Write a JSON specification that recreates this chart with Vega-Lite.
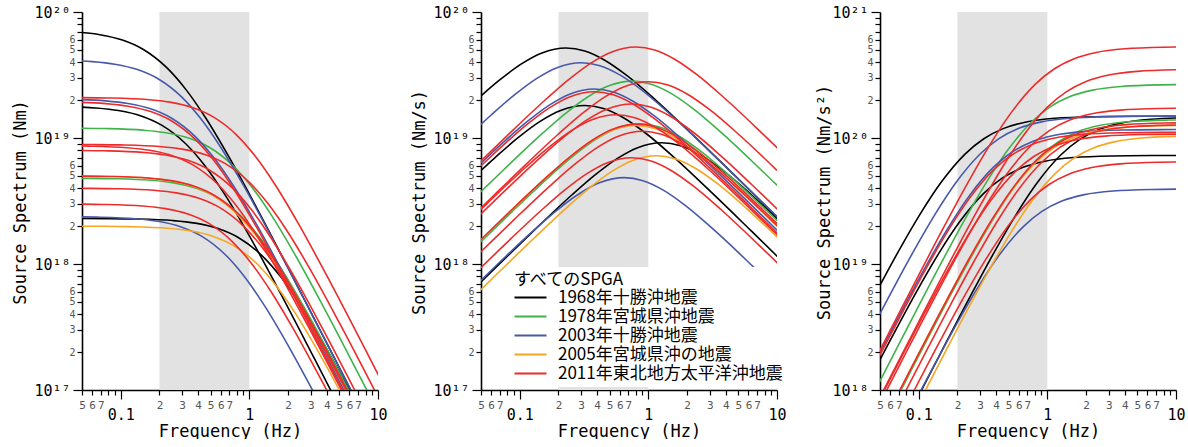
{
"$schema":"https://vega.github.io/schema/vega-lite/v6.json",
"padding":{"left":11,"top":5,"right":0,"bottom":0},
"bounds":"flush",
"spacing":103,
"config":{"view":{"stroke":null},"axis":{"domainColor":"black","domainWidth":1.6,"tickColor":"black","tickWidth":1.2,"grid":false,"labelOverlap":false,"labelFlush":false,"labelFont":"DejaVu Sans Mono","titleFont":"DejaVu Sans Mono","titleFontSize":17,"titleFontWeight":"normal","titleColor":"black"}},
"resolve":{"scale":{"color":"independent"},"legend":{"color":"independent"}},
"datasets":{
"curves":[{"id":"k1","eq":"1968年十勝沖地震"},{"id":"k2","eq":"1968年十勝沖地震"},{"id":"k3","eq":"1968年十勝沖地震"},{"id":"g1","eq":"1978年宮城県沖地震"},{"id":"g2","eq":"1978年宮城県沖地震"},{"id":"b1","eq":"2003年十勝沖地震"},{"id":"b2","eq":"2003年十勝沖地震"},{"id":"b3","eq":"2003年十勝沖地震"},{"id":"o1","eq":"2005年宮城県沖の地震"},{"id":"o2","eq":"2005年宮城県沖の地震"},{"id":"r1","eq":"2011年東北地方太平洋沖地震"},{"id":"r2","eq":"2011年東北地方太平洋沖地震"},{"id":"r3","eq":"2011年東北地方太平洋沖地震"},{"id":"r4","eq":"2011年東北地方太平洋沖地震"},{"id":"r5","eq":"2011年東北地方太平洋沖地震"},{"id":"r6","eq":"2011年東北地方太平洋沖地震"},{"id":"r7","eq":"2011年東北地方太平洋沖地震"},{"id":"r8","eq":"2011年東北地方太平洋沖地震"}],
"pts":[
{"id":"k1","f":0.0458,"d":6.923e19,"v":1.992e19,"a":5.733e18},
{"id":"k1","f":0.0687,"d":6.605e19,"v":2.851e19,"a":1.231e19},
{"id":"k1","f":0.1031,"d":5.988e19,"v":3.877e19,"a":2.510e19},
{"id":"k1","f":0.1489,"d":5.062e19,"v":4.734e19,"a":4.427e19},
{"id":"k1","f":0.229,"d":3.6e19,"v":5.18e19,"a":7.453e19},
{"id":"k1","f":0.3206,"d":2.432e19,"v":4.9e19,"a":9.87e19},
{"id":"k1","f":0.458,"d":1.44e19,"v":4.144e19,"a":1.1925e20},
{"id":"k1","f":0.687,"d":7.2e18,"v":3.108e19,"a":1.3415e20},
{"id":"k1","f":1.145,"d":2.769e18,"v":1.992e19,"a":1.4333e20},
{"id":"k1","f":2.29,"d":7.129e17,"v":1.0257e19,"a":1.4758e20},
{"id":"k1","f":4.58,"d":1.796e17,"v":5.167e18,"a":1.4869e20},
{"id":"k1","f":10.305,"d":3.557e16,"v":2.301e18,"a":1.4899e20},
{"id":"k2","f":0.032,"d":1.7822e19,"v":3.583e18,"a":7.205e17},
{"id":"k2","f":0.064,"d":1.7308e19,"v":6.96e18,"a":2.799e18},
{"id":"k2","f":0.096,"d":1.6514e19,"v":9.961e18,"a":6.008e18},
{"id":"k2","f":0.144,"d":1.4969e19,"v":1.3544e19,"a":1.2254e19},
{"id":"k2","f":0.208,"d":1.2654e19,"v":1.6538e19,"a":2.1613e19},
{"id":"k2","f":0.32,"d":9.0e18,"v":1.8096e19,"a":3.6384e19},
{"id":"k2","f":0.448,"d":6.081e18,"v":1.7118e19,"a":4.8184e19},
{"id":"k2","f":0.64,"d":3.6e18,"v":1.4477e19,"a":5.8214e19},
{"id":"k2","f":0.96,"d":1.8e18,"v":1.0858e19,"a":6.549e19},
{"id":"k2","f":1.6,"d":6.923e17,"v":6.96e18,"a":6.9968e19},
{"id":"k2","f":3.2,"d":1.782e17,"v":3.583e18,"a":7.2047e19},
{"id":"k2","f":6.4,"d":4.489e16,"v":1.805e18,"a":7.2585e19},
{"id":"k2","f":14.4,"d":8.89e15,"v":8.039e17,"a":7.2731e19},
{"id":"k3","f":0.0381,"d":2.298e18,"v":5.501e17,"a":1.317e17},
{"id":"k3","f":0.0762,"d":2.2917e18,"v":1.0973e18,"a":5.253e17},
{"id":"k3","f":0.127,"d":2.2772e18,"v":1.8172e18,"a":1.45e18},
{"id":"k3","f":0.254,"d":2.2115e18,"v":3.5295e18,"a":5.633e18},
{"id":"k3","f":0.381,"d":2.1101e18,"v":5.0513e18,"a":1.2092e19},
{"id":"k3","f":0.5715,"d":1.9127e18,"v":6.8681e18,"a":2.4662e19},
{"id":"k3","f":0.8255,"d":1.6169e18,"v":8.3863e18,"a":4.3497e19},
{"id":"k3","f":1.27,"d":1.15e18,"v":9.1766e18,"a":7.3225e19},
{"id":"k3","f":1.778,"d":7.77e17,"v":8.6806e18,"a":9.697e19},
{"id":"k3","f":2.54,"d":4.6e17,"v":7.3413e18,"a":1.1716e20},
{"id":"k3","f":3.81,"d":2.3e17,"v":5.506e18,"a":1.3181e20},
{"id":"k3","f":6.35,"d":8.846e16,"v":3.5295e18,"a":1.4082e20},
{"id":"k3","f":12.7,"d":2.277e16,"v":1.8172e18,"a":1.45e20},
{"id":"g1","f":0.045,"d":1.1957e19,"v":3.381e18,"a":9.559e17},
{"id":"g1","f":0.075,"d":1.1881e19,"v":5.599e18,"a":2.638e18},
{"id":"g1","f":0.15,"d":1.1538e19,"v":1.0875e19,"a":1.0249e19},
{"id":"g1","f":0.225,"d":1.1009e19,"v":1.5564e19,"a":2.2003e19},
{"id":"g1","f":0.3375,"d":9.979e18,"v":2.1161e19,"a":4.4875e19},
{"id":"g1","f":0.4875,"d":8.436e18,"v":2.5839e19,"a":7.915e19},
{"id":"g1","f":0.75,"d":6.0e18,"v":2.8274e19,"a":1.3324e20},
{"id":"g1","f":1.05,"d":4.054e18,"v":2.6746e19,"a":1.7645e20},
{"id":"g1","f":1.5,"d":2.4e18,"v":2.2619e19,"a":2.1318e20},
{"id":"g1","f":2.25,"d":1.2e18,"v":1.6964e19,"a":2.3983e20},
{"id":"g1","f":3.75,"d":4.615e17,"v":1.0875e19,"a":2.5623e20},
{"id":"g1","f":7.5,"d":1.188e17,"v":5.599e18,"a":2.6384e20},
{"id":"g1","f":15,"d":2.993e16,"v":2.8204e18,"a":2.6581e20},
{"id":"g2","f":0.0258,"d":4.7957e18,"v":7.774e17,"a":1.26e17},
{"id":"g2","f":0.0516,"d":4.7828e18,"v":1.5506e18,"a":5.027e17},
{"id":"g2","f":0.086,"d":4.7525e18,"v":2.568e18,"a":1.388e18},
{"id":"g2","f":0.172,"d":4.6154e18,"v":4.988e18,"a":5.39e18},
{"id":"g2","f":0.258,"d":4.4037e18,"v":7.138e18,"a":1.1572e19},
{"id":"g2","f":0.387,"d":3.9917e18,"v":9.706e18,"a":2.3601e19},
{"id":"g2","f":0.559,"d":3.3743e18,"v":1.1851e19,"a":4.1626e19},
{"id":"g2","f":0.86,"d":2.4e18,"v":1.2968e19,"a":7.0075e19},
{"id":"g2","f":1.204,"d":1.6216e18,"v":1.2267e19,"a":9.28e19},
{"id":"g2","f":1.72,"d":9.6e17,"v":1.0374e19,"a":1.1212e20},
{"id":"g2","f":2.58,"d":4.8e17,"v":7.781e18,"a":1.2614e20},
{"id":"g2","f":4.3,"d":1.846e17,"v":4.988e18,"a":1.3476e20},
{"id":"g2","f":8.6,"d":4.752e16,"v":2.568e18,"a":1.3876e20},
{"id":"g2","f":17.2,"d":1.197e16,"v":1.2936e18,"a":1.398e20},
{"id":"b1","f":0.03,"d":4.1584e19,"v":7.838e18,"a":1.478e18},
{"id":"b1","f":0.06,"d":4.0385e19,"v":1.5225e19,"a":5.74e18},
{"id":"b1","f":0.09,"d":3.8532e19,"v":2.1789e19,"a":1.2322e19},
{"id":"b1","f":0.135,"d":3.4927e19,"v":2.9626e19,"a":2.513e19},
{"id":"b1","f":0.195,"d":2.9526e19,"v":3.6175e19,"a":4.4323e19},
{"id":"b1","f":0.3,"d":2.1e19,"v":3.9584e19,"a":7.4615e19},
{"id":"b1","f":0.42,"d":1.4189e19,"v":3.7444e19,"a":9.8815e19},
{"id":"b1","f":0.6,"d":8.4e18,"v":3.1667e19,"a":1.1938e20},
{"id":"b1","f":0.9,"d":4.2e18,"v":2.375e19,"a":1.3431e20},
{"id":"b1","f":1.5,"d":1.6154e18,"v":1.5225e19,"a":1.4349e20},
{"id":"b1","f":3.0,"d":4.158e17,"v":7.838e18,"a":1.4775e20},
{"id":"b1","f":6.0,"d":1.0475e17,"v":3.9485e18,"a":1.4886e20},
{"id":"b1","f":13.5,"d":2.075e16,"v":1.7584e18,"a":1.4916e20},
{"id":"b2","f":0.038,"d":2.0297e19,"v":4.846e18,"a":1.157e18},
{"id":"b2","f":0.076,"d":1.9712e19,"v":9.413e18,"a":4.495e18},
{"id":"b2","f":0.114,"d":1.8807e19,"v":1.3471e19,"a":9.649e18},
{"id":"b2","f":0.171,"d":1.7048e19,"v":1.8317e19,"a":1.9679e19},
{"id":"b2","f":0.247,"d":1.4411e19,"v":2.2366e19,"a":3.4709e19},
{"id":"b2","f":0.38,"d":1.025e19,"v":2.4473e19,"a":5.843e19},
{"id":"b2","f":0.532,"d":6.926e18,"v":2.315e19,"a":7.738e19},
{"id":"b2","f":0.76,"d":4.1e18,"v":1.9578e19,"a":9.349e19},
{"id":"b2","f":1.14,"d":2.05e18,"v":1.4684e19,"a":1.0517e20},
{"id":"b2","f":1.9,"d":7.885e17,"v":9.413e18,"a":1.1237e20},
{"id":"b2","f":3.8,"d":2.03e17,"v":4.846e18,"a":1.157e20},
{"id":"b2","f":7.6,"d":5.113e16,"v":2.4412e18,"a":1.1657e20},
{"id":"b2","f":17.1,"d":1.013e16,"v":1.0872e18,"a":1.168e20},
{"id":"b3","f":0.0389,"d":2.3715e18,"v":5.793e17,"a":1.415e17},
{"id":"b3","f":0.0648,"d":2.3564e18,"v":9.594e17,"a":3.906e17},
{"id":"b3","f":0.1296,"d":2.2885e18,"v":1.8635e18,"a":1.5175e18},
{"id":"b3","f":0.1944,"d":2.1835e18,"v":2.667e18,"a":3.2577e18},
{"id":"b3","f":0.2916,"d":1.9792e18,"v":3.6263e18,"a":6.644e18},
{"id":"b3","f":0.4212,"d":1.6731e18,"v":4.4279e18,"a":1.1718e19},
{"id":"b3","f":0.648,"d":1.19e18,"v":4.8451e18,"a":1.9727e19},
{"id":"b3","f":0.9072,"d":8.041e17,"v":4.5832e18,"a":2.6125e19},
{"id":"b3","f":1.296,"d":4.76e17,"v":3.8761e18,"a":3.1563e19},
{"id":"b3","f":1.944,"d":2.38e17,"v":2.9071e18,"a":3.5509e19},
{"id":"b3","f":3.24,"d":9.154e16,"v":1.8635e18,"a":3.7937e19},
{"id":"b3","f":6.48,"d":2.356e16,"v":9.594e17,"a":3.9063e19},
{"id":"b3","f":12.96,"d":5.94e15,"v":4.833e17,"a":3.9356e19},
{"id":"o1","f":0.048,"d":4.982e18,"v":1.5025e18,"a":4.532e17},
{"id":"o1","f":0.08,"d":4.9505e18,"v":2.488e18,"a":1.251e18},
{"id":"o1","f":0.16,"d":4.8077e18,"v":4.833e18,"a":4.859e18},
{"id":"o1","f":0.24,"d":4.5872e18,"v":6.917e18,"a":1.0431e19},
{"id":"o1","f":0.36,"d":4.158e18,"v":9.405e18,"a":2.1274e19},
{"id":"o1","f":0.52,"d":3.5149e18,"v":1.1484e19,"a":3.7522e19},
{"id":"o1","f":0.8,"d":2.5e18,"v":1.2566e19,"a":6.3165e19},
{"id":"o1","f":1.12,"d":1.6892e18,"v":1.1887e19,"a":8.365e19},
{"id":"o1","f":1.6,"d":1.0e18,"v":1.0053e19,"a":1.0106e20},
{"id":"o1","f":2.4,"d":5.0e17,"v":7.54e18,"a":1.137e20},
{"id":"o1","f":4.0,"d":1.923e17,"v":4.833e18,"a":1.2147e20},
{"id":"o1","f":8.0,"d":4.95e16,"v":2.488e18,"a":1.2508e20},
{"id":"o1","f":16,"d":1.247e16,"v":1.2535e18,"a":1.2601e20},
{"id":"o2","f":0.0345,"d":1.998e18,"v":4.332e17,"a":9.387e16},
{"id":"o2","f":0.069,"d":1.9928e18,"v":8.64e17,"a":3.746e17},
{"id":"o2","f":0.115,"d":1.9802e18,"v":1.4308e18,"a":1.034e18},
{"id":"o2","f":0.23,"d":1.9231e18,"v":2.779e18,"a":4.016e18},
{"id":"o2","f":0.345,"d":1.8349e18,"v":3.977e18,"a":8.622e18},
{"id":"o2","f":0.5175,"d":1.6632e18,"v":5.408e18,"a":1.7584e19},
{"id":"o2","f":0.7475,"d":1.406e18,"v":6.603e18,"a":3.1014e19},
{"id":"o2","f":1.15,"d":1.0e18,"v":7.2257e18,"a":5.221e19},
{"id":"o2","f":1.61,"d":6.757e17,"v":6.835e18,"a":6.914e19},
{"id":"o2","f":2.3,"d":4.0e17,"v":5.7806e18,"a":8.354e19},
{"id":"o2","f":3.45,"d":2.0e17,"v":4.3354e18,"a":9.398e19},
{"id":"o2","f":5.75,"d":7.692e16,"v":2.779e18,"a":1.004e20},
{"id":"o2","f":11.5,"d":1.98e16,"v":1.4308e18,"a":1.0339e20},
{"id":"r1","f":0.048,"d":2.0925e19,"v":6.311e18,"a":1.903e18},
{"id":"r1","f":0.08,"d":2.0792e19,"v":1.0451e19,"a":5.253e18},
{"id":"r1","f":0.16,"d":2.0192e19,"v":2.03e19,"a":2.0408e19},
{"id":"r1","f":0.24,"d":1.9266e19,"v":2.9053e19,"a":4.381e19},
{"id":"r1","f":0.36,"d":1.7464e19,"v":3.9502e19,"a":8.935e19},
{"id":"r1","f":0.52,"d":1.4763e19,"v":4.8234e19,"a":1.5759e20},
{"id":"r1","f":0.8,"d":1.05e19,"v":5.2779e19,"a":2.653e20},
{"id":"r1","f":1.12,"d":7.095e18,"v":4.9926e19,"a":3.5134e20},
{"id":"r1","f":1.6,"d":4.2e18,"v":4.2223e19,"a":4.2447e20},
{"id":"r1","f":2.4,"d":2.1e18,"v":3.1667e19,"a":4.7753e20},
{"id":"r1","f":4.0,"d":8.077e17,"v":2.03e19,"a":5.1018e20},
{"id":"r1","f":8.0,"d":2.079e17,"v":1.0451e19,"a":5.2534e20},
{"id":"r1","f":16,"d":5.237e16,"v":5.2648e18,"a":5.2927e20},
{"id":"r2","f":0.038,"d":1.9307e19,"v":4.61e18,"a":1.101e18},
{"id":"r2","f":0.076,"d":1.875e19,"v":8.954e18,"a":4.275e18},
{"id":"r2","f":0.114,"d":1.789e19,"v":1.2814e19,"a":9.178e18},
{"id":"r2","f":0.171,"d":1.6216e19,"v":1.7423e19,"a":1.8719e19},
{"id":"r2","f":0.247,"d":1.3708e19,"v":2.1274e19,"a":3.3016e19},
{"id":"r2","f":0.38,"d":9.75e18,"v":2.3279e19,"a":5.558e19},
{"id":"r2","f":0.532,"d":6.588e18,"v":2.2021e19,"a":7.361e19},
{"id":"r2","f":0.76,"d":3.9e18,"v":1.8623e19,"a":8.893e19},
{"id":"r2","f":1.14,"d":1.95e18,"v":1.3967e19,"a":1.0004e20},
{"id":"r2","f":1.9,"d":7.5e17,"v":8.954e18,"a":1.0688e20},
{"id":"r2","f":3.8,"d":1.931e17,"v":4.61e18,"a":1.1006e20},
{"id":"r2","f":7.6,"d":4.863e16,"v":2.3221e18,"a":1.1088e20},
{"id":"r2","f":17.1,"d":9.63e15,"v":1.0341e18,"a":1.111e20},
{"id":"r3","f":0.03,"d":8.892e18,"v":1.676e18,"a":3.159e17},
{"id":"r3","f":0.06,"d":8.868e18,"v":3.343e18,"a":1.26e18},
{"id":"r3","f":0.1,"d":8.8119e18,"v":5.537e18,"a":3.479e18},
{"id":"r3","f":0.2,"d":8.5577e18,"v":1.0754e19,"a":1.3514e19},
{"id":"r3","f":0.3,"d":8.1651e18,"v":1.5391e19,"a":2.9011e19},
{"id":"r3","f":0.45,"d":7.4012e18,"v":2.0926e19,"a":5.9167e19},
{"id":"r3","f":0.65,"d":6.2566e18,"v":2.5552e19,"a":1.0436e20},
{"id":"r3","f":1.0,"d":4.45e18,"v":2.796e19,"a":1.7568e20},
{"id":"r3","f":1.4,"d":3.0068e18,"v":2.6449e19,"a":2.3265e20},
{"id":"r3","f":2.0,"d":1.78e18,"v":2.2368e19,"a":2.8108e20},
{"id":"r3","f":3.0,"d":8.9e17,"v":1.6776e19,"a":3.1622e20},
{"id":"r3","f":5.0,"d":3.423e17,"v":1.0754e19,"a":3.3784e20},
{"id":"r3","f":10,"d":8.812e16,"v":5.537e18,"a":3.4787e20},
{"id":"r4","f":0.0444,"d":7.9713e18,"v":2.224e18,"a":6.204e17},
{"id":"r4","f":0.074,"d":7.9208e18,"v":3.683e18,"a":1.712e18},
{"id":"r4","f":0.148,"d":7.6923e18,"v":7.153e18,"a":6.652e18},
{"id":"r4","f":0.222,"d":7.3394e18,"v":1.0238e19,"a":1.428e19},
{"id":"r4","f":0.333,"d":6.6528e18,"v":1.392e19,"a":2.9125e19},
{"id":"r4","f":0.481,"d":5.6239e18,"v":1.6996e19,"a":5.1368e19},
{"id":"r4","f":0.74,"d":4.0e18,"v":1.8598e19,"a":8.6475e19},
{"id":"r4","f":1.036,"d":2.7027e18,"v":1.7593e19,"a":1.1452e20},
{"id":"r4","f":1.48,"d":1.6e18,"v":1.4878e19,"a":1.3836e20},
{"id":"r4","f":2.22,"d":8.0e17,"v":1.1159e19,"a":1.5566e20},
{"id":"r4","f":3.7,"d":3.077e17,"v":7.153e18,"a":1.663e20},
{"id":"r4","f":7.4,"d":7.921e16,"v":3.683e18,"a":1.7124e20},
{"id":"r4","f":14.8,"d":1.995e16,"v":1.8552e18,"a":1.7252e20},
{"id":"r5","f":0.0492,"d":4.982e18,"v":1.54e18,"a":4.761e17},
{"id":"r5","f":0.082,"d":4.9505e18,"v":2.551e18,"a":1.314e18},
{"id":"r5","f":0.164,"d":4.8077e18,"v":4.954e18,"a":5.105e18},
{"id":"r5","f":0.246,"d":4.5872e18,"v":7.091e18,"a":1.0959e19},
{"id":"r5","f":0.369,"d":4.158e18,"v":9.641e18,"a":2.2352e19},
{"id":"r5","f":0.533,"d":3.5149e18,"v":1.1772e19,"a":3.9422e19},
{"id":"r5","f":0.82,"d":2.5e18,"v":1.2881e19,"a":6.6365e19},
{"id":"r5","f":1.148,"d":1.6892e18,"v":1.2185e19,"a":8.789e19},
{"id":"r5","f":1.64,"d":1.0e18,"v":1.0305e19,"a":1.0618e20},
{"id":"r5","f":2.46,"d":5.0e17,"v":7.729e18,"a":1.1946e20},
{"id":"r5","f":4.1,"d":1.923e17,"v":4.954e18,"a":1.2763e20},
{"id":"r5","f":8.2,"d":4.95e16,"v":2.551e18,"a":1.3142e20},
{"id":"r5","f":16.4,"d":1.247e16,"v":1.2849e18,"a":1.324e20},
{"id":"r6","f":0.027,"d":3.9964e18,"v":6.78e17,"a":1.15e17},
{"id":"r6","f":0.054,"d":3.9856e18,"v":1.352e18,"a":4.588e17},
{"id":"r6","f":0.09,"d":3.9604e18,"v":2.24e18,"a":1.266e18},
{"id":"r6","f":0.18,"d":3.8462e18,"v":4.35e18,"a":4.92e18},
{"id":"r6","f":0.27,"d":3.6697e18,"v":6.226e18,"a":1.0561e19},
{"id":"r6","f":0.405,"d":3.3264e18,"v":8.465e18,"a":2.154e19},
{"id":"r6","f":0.585,"d":2.812e18,"v":1.0336e19,"a":3.7991e19},
{"id":"r6","f":0.9,"d":2.0e18,"v":1.131e19,"a":6.3955e19},
{"id":"r6","f":1.26,"d":1.3514e18,"v":1.0699e19,"a":8.47e19},
{"id":"r6","f":1.8,"d":8.0e17,"v":9.048e18,"a":1.0233e20},
{"id":"r6","f":2.7,"d":4.0e17,"v":6.786e18,"a":1.1512e20},
{"id":"r6","f":4.5,"d":1.538e17,"v":4.35e18,"a":1.2299e20},
{"id":"r6","f":9.0,"d":3.96e16,"v":2.24e18,"a":1.2664e20},
{"id":"r6","f":18,"d":9.98e15,"v":1.1282e18,"a":1.2759e20},
{"id":"r7","f":0.0444,"d":2.9892e18,"v":8.339e17,"a":2.326e17},
{"id":"r7","f":0.074,"d":2.9703e18,"v":1.381e18,"a":6.421e17},
{"id":"r7","f":0.148,"d":2.8846e18,"v":2.682e18,"a":2.494e18},
{"id":"r7","f":0.222,"d":2.7523e18,"v":3.839e18,"a":5.355e18},
{"id":"r7","f":0.333,"d":2.4948e18,"v":5.22e18,"a":1.0921e19},
{"id":"r7","f":0.481,"d":2.109e18,"v":6.374e18,"a":1.9262e19},
{"id":"r7","f":0.74,"d":1.5e18,"v":6.9743e18,"a":3.2427e19},
{"id":"r7","f":1.036,"d":1.0135e18,"v":6.597e18,"a":4.2944e19},
{"id":"r7","f":1.48,"d":6.0e17,"v":5.5794e18,"a":5.1883e19},
{"id":"r7","f":2.22,"d":3.0e17,"v":4.1846e18,"a":5.8369e19},
{"id":"r7","f":3.7,"d":1.154e17,"v":2.682e18,"a":6.236e19},
{"id":"r7","f":7.4,"d":2.97e16,"v":1.381e18,"a":6.4212e19},
{"id":"r7","f":14.8,"d":7.48e15,"v":6.957e17,"a":6.4692e19},
{"id":"r8","f":0.0336,"d":8.6688e18,"v":1.83e18,"a":3.864e17},
{"id":"r8","f":0.056,"d":8.6139e18,"v":3.031e18,"a":1.066e18},
{"id":"r8","f":0.112,"d":8.3654e18,"v":5.887e18,"a":4.143e18},
{"id":"r8","f":0.168,"d":7.9817e18,"v":8.425e18,"a":8.894e18},
{"id":"r8","f":0.252,"d":7.2349e18,"v":1.1456e19,"a":1.8138e19},
{"id":"r8","f":0.364,"d":6.116e18,"v":1.3988e19,"a":3.1991e19},
{"id":"r8","f":0.56,"d":4.35e18,"v":1.5306e19,"a":5.3855e19},
{"id":"r8","f":0.784,"d":2.9392e18,"v":1.4479e19,"a":7.132e19},
{"id":"r8","f":1.12,"d":1.74e18,"v":1.2245e19,"a":8.617e19},
{"id":"r8","f":1.68,"d":8.7e17,"v":9.184e18,"a":9.694e19},
{"id":"r8","f":2.8,"d":3.346e17,"v":5.887e18,"a":1.0357e20},
{"id":"r8","f":5.6,"d":8.614e16,"v":3.031e18,"a":1.0664e20},
{"id":"r8","f":11.2,"d":2.17e16,"v":1.5268e18,"a":1.0744e20}
]},
"hconcat":[
{"width":296,"height":378,"layer":[
{"data":{"values":[{"lo":0.2,"hi":1}]},"mark":{"type":"rect","color":"#e2e2e2"},
"encoding":{"x":{"field":"lo","type":"quantitative","scale":{"type":"log","domain":[0.05,10],"nice":false},"title":"Frequency (Hz)"},"x2":{"field":"hi"}}},
{"data":{"name":"pts"},"transform":[{"lookup":"id","from":{"data":{"name":"curves"},"key":"id","fields":["eq"]}}],
"mark":{"type":"line","interpolate":"monotone","clip":true,"strokeWidth":1.6},
"encoding":{
"x":{"field":"f","type":"quantitative","scale":{"type":"log","domain":[0.05,10],"nice":false},"title":"Frequency (Hz)",
"axis":{"values":[0.05,0.06,0.07,0.08,0.09,0.1,0.2,0.3,0.4,0.5,0.6,0.7,0.8,0.9,1,2,3,4,5,6,7,8,9,10],
"labelExpr":"datum.value==0.1?'0.1':datum.value==1?'1':datum.value==10?'10':round(datum.value/pow(10,floor(log(datum.value)/LN10+1e-6)))<8?''+round(datum.value/pow(10,floor(log(datum.value)/LN10+1e-6))):''",
"tickSize":{"condition":{"test":"datum.value==0.1||datum.value==1||datum.value==10","value":9},"value":5},
"labelFontSize":{"condition":{"test":"datum.value==0.1||datum.value==1||datum.value==10","value":15},"value":11},
"labelColor":{"condition":{"test":"datum.value==0.1||datum.value==1||datum.value==10","value":"black"},"value":"#555555"},
"labelPadding":{"condition":{"test":"datum.value==0.1||datum.value==1||datum.value==10","value":8},"value":4},
"titleY":46,"titleBaseline":"alphabetic"}},
"y":{"field":"d","type":"quantitative","scale":{"type":"log","domain":[1e17,1e20],"nice":false},"title":"Source Spectrum (Nm)",
"axis":{"values":[1e17,2e17,3e17,4e17,5e17,6e17,7e17,8e17,9e17,1e18,2e18,3e18,4e18,5e18,6e18,7e18,8e18,9e18,1e19,2e19,3e19,4e19,5e19,6e19,7e19,8e19,9e19,1e20],
"labelExpr":"round(datum.value/pow(10,floor(log(datum.value)/LN10+1e-6)))==1?['10¹⁷','10¹⁸','10¹⁹','10²⁰','10²¹'][floor(log(datum.value)/LN10+1e-6)-17]:round(datum.value/pow(10,floor(log(datum.value)/LN10+1e-6)))<7?''+round(datum.value/pow(10,floor(log(datum.value)/LN10+1e-6))):''",
"tickSize":{"condition":{"test":"datum.value==1e17||datum.value==1e18||datum.value==1e19||datum.value==1e20","value":9},"value":5},
"labelFontSize":{"condition":{"test":"datum.value==1e17||datum.value==1e18||datum.value==1e19||datum.value==1e20","value":15},"value":10},
"labelColor":{"condition":{"test":"datum.value==1e17||datum.value==1e18||datum.value==1e19||datum.value==1e20","value":"black"},"value":"#555555"},
"labelPadding":{"condition":{"test":"datum.value==1e17||datum.value==1e18||datum.value==1e19||datum.value==1e20","value":3},"value":2},
"titleX":-57,"titleY":190,"titleBaseline":"alphabetic","titleAngle":270}},
"color":{"field":"eq","type":"nominal","scale":{"domain":["1968年十勝沖地震","1978年宮城県沖地震","2003年十勝沖地震","2005年宮城県沖の地震","2011年東北地方太平洋沖地震"],"range":["#000000","#3fb34a","#4759aa","#f5a623","#ee2b2b"]},"legend":null},
"detail":{"field":"id"}}}
]},
{"width":296,"height":378,"layer":[
{"data":{"values":[{"lo":0.2,"hi":1}]},"mark":{"type":"rect","color":"#e2e2e2"},
"encoding":{"x":{"field":"lo","type":"quantitative","scale":{"type":"log","domain":[0.05,10],"nice":false},"title":"Frequency (Hz)"},"x2":{"field":"hi"}}},
{"data":{"name":"pts"},"transform":[{"lookup":"id","from":{"data":{"name":"curves"},"key":"id","fields":["eq"]}}],
"mark":{"type":"line","interpolate":"monotone","clip":true,"strokeWidth":1.6},
"encoding":{
"x":{"field":"f","type":"quantitative","scale":{"type":"log","domain":[0.05,10],"nice":false},"title":"Frequency (Hz)",
"axis":{"values":[0.05,0.06,0.07,0.08,0.09,0.1,0.2,0.3,0.4,0.5,0.6,0.7,0.8,0.9,1,2,3,4,5,6,7,8,9,10],
"labelExpr":"datum.value==0.1?'0.1':datum.value==1?'1':datum.value==10?'10':round(datum.value/pow(10,floor(log(datum.value)/LN10+1e-6)))<8?''+round(datum.value/pow(10,floor(log(datum.value)/LN10+1e-6))):''",
"tickSize":{"condition":{"test":"datum.value==0.1||datum.value==1||datum.value==10","value":9},"value":5},
"labelFontSize":{"condition":{"test":"datum.value==0.1||datum.value==1||datum.value==10","value":15},"value":11},
"labelColor":{"condition":{"test":"datum.value==0.1||datum.value==1||datum.value==10","value":"black"},"value":"#555555"},
"labelPadding":{"condition":{"test":"datum.value==0.1||datum.value==1||datum.value==10","value":8},"value":4},
"titleY":46,"titleBaseline":"alphabetic"}},
"y":{"field":"v","type":"quantitative","scale":{"type":"log","domain":[1e17,1e20],"nice":false},"title":"Source Spectrum (Nm/s)",
"axis":{"values":[1e17,2e17,3e17,4e17,5e17,6e17,7e17,8e17,9e17,1e18,2e18,3e18,4e18,5e18,6e18,7e18,8e18,9e18,1e19,2e19,3e19,4e19,5e19,6e19,7e19,8e19,9e19,1e20],
"labelExpr":"round(datum.value/pow(10,floor(log(datum.value)/LN10+1e-6)))==1?['10¹⁷','10¹⁸','10¹⁹','10²⁰','10²¹'][floor(log(datum.value)/LN10+1e-6)-17]:round(datum.value/pow(10,floor(log(datum.value)/LN10+1e-6)))<7?''+round(datum.value/pow(10,floor(log(datum.value)/LN10+1e-6))):''",
"tickSize":{"condition":{"test":"datum.value==1e17||datum.value==1e18||datum.value==1e19||datum.value==1e20","value":9},"value":5},
"labelFontSize":{"condition":{"test":"datum.value==1e17||datum.value==1e18||datum.value==1e19||datum.value==1e20","value":15},"value":10},
"labelColor":{"condition":{"test":"datum.value==1e17||datum.value==1e18||datum.value==1e19||datum.value==1e20","value":"black"},"value":"#555555"},
"labelPadding":{"condition":{"test":"datum.value==1e17||datum.value==1e18||datum.value==1e19||datum.value==1e20","value":3},"value":2},
"titleX":-57,"titleY":190,"titleBaseline":"alphabetic","titleAngle":270}},
"color":{"field":"eq","type":"nominal","scale":{"domain":["1968年十勝沖地震","1978年宮城県沖地震","2003年十勝沖地震","2005年宮城県沖の地震","2011年東北地方太平洋沖地震"],"range":["#000000","#3fb34a","#4759aa","#f5a623","#ee2b2b"]},
"legend":{"orient":"none","legendX":28,"legendY":255,"title":"すべてのSPGA","fillColor":"white","padding":5,"symbolType":"M-2.286,0H2.286","symbolSize":196,"symbolStrokeWidth":2,"symbolOffset":8,"labelFont":"Noto Sans CJK JP","labelFontSize":17,"labelColor":"black","titleFont":"Noto Sans CJK JP","titleFontSize":17,"titleFontWeight":"normal","titleColor":"black","labelLimit":400,"rowPadding":1,"labelOffset":19,"titlePadding":0}},
"detail":{"field":"id"}}}
]},
{"width":296,"height":378,"layer":[
{"data":{"values":[{"lo":0.2,"hi":1}]},"mark":{"type":"rect","color":"#e2e2e2"},
"encoding":{"x":{"field":"lo","type":"quantitative","scale":{"type":"log","domain":[0.05,10],"nice":false},"title":"Frequency (Hz)"},"x2":{"field":"hi"}}},
{"data":{"name":"pts"},"transform":[{"lookup":"id","from":{"data":{"name":"curves"},"key":"id","fields":["eq"]}}],
"mark":{"type":"line","interpolate":"monotone","clip":true,"strokeWidth":1.6},
"encoding":{
"x":{"field":"f","type":"quantitative","scale":{"type":"log","domain":[0.05,10],"nice":false},"title":"Frequency (Hz)",
"axis":{"values":[0.05,0.06,0.07,0.08,0.09,0.1,0.2,0.3,0.4,0.5,0.6,0.7,0.8,0.9,1,2,3,4,5,6,7,8,9,10],
"labelExpr":"datum.value==0.1?'0.1':datum.value==1?'1':datum.value==10?'10':round(datum.value/pow(10,floor(log(datum.value)/LN10+1e-6)))<8?''+round(datum.value/pow(10,floor(log(datum.value)/LN10+1e-6))):''",
"tickSize":{"condition":{"test":"datum.value==0.1||datum.value==1||datum.value==10","value":9},"value":5},
"labelFontSize":{"condition":{"test":"datum.value==0.1||datum.value==1||datum.value==10","value":15},"value":11},
"labelColor":{"condition":{"test":"datum.value==0.1||datum.value==1||datum.value==10","value":"black"},"value":"#555555"},
"labelPadding":{"condition":{"test":"datum.value==0.1||datum.value==1||datum.value==10","value":8},"value":4},
"titleY":46,"titleBaseline":"alphabetic"}},
"y":{"field":"a","type":"quantitative","scale":{"type":"log","domain":[1e18,1e21],"nice":false},"title":"Source Spectrum (Nm/s²)",
"axis":{"values":[1e18,2e18,3e18,4e18,5e18,6e18,7e18,8e18,9e18,1e19,2e19,3e19,4e19,5e19,6e19,7e19,8e19,9e19,1e20,2e20,3e20,4e20,5e20,6e20,7e20,8e20,9e20,1e21],
"labelExpr":"round(datum.value/pow(10,floor(log(datum.value)/LN10+1e-6)))==1?['10¹⁷','10¹⁸','10¹⁹','10²⁰','10²¹'][floor(log(datum.value)/LN10+1e-6)-17]:round(datum.value/pow(10,floor(log(datum.value)/LN10+1e-6)))<7?''+round(datum.value/pow(10,floor(log(datum.value)/LN10+1e-6))):''",
"tickSize":{"condition":{"test":"datum.value==1e18||datum.value==1e19||datum.value==1e20||datum.value==1e21","value":9},"value":5},
"labelFontSize":{"condition":{"test":"datum.value==1e18||datum.value==1e19||datum.value==1e20||datum.value==1e21","value":15},"value":10},
"labelColor":{"condition":{"test":"datum.value==1e18||datum.value==1e19||datum.value==1e20||datum.value==1e21","value":"black"},"value":"#555555"},
"labelPadding":{"condition":{"test":"datum.value==1e18||datum.value==1e19||datum.value==1e20||datum.value==1e21","value":3},"value":2},
"titleX":-51,"titleY":190,"titleBaseline":"alphabetic","titleAngle":270}},
"color":{"field":"eq","type":"nominal","scale":{"domain":["1968年十勝沖地震","1978年宮城県沖地震","2003年十勝沖地震","2005年宮城県沖の地震","2011年東北地方太平洋沖地震"],"range":["#000000","#3fb34a","#4759aa","#f5a623","#ee2b2b"]},"legend":null},
"detail":{"field":"id"}}}
]}
]
}
